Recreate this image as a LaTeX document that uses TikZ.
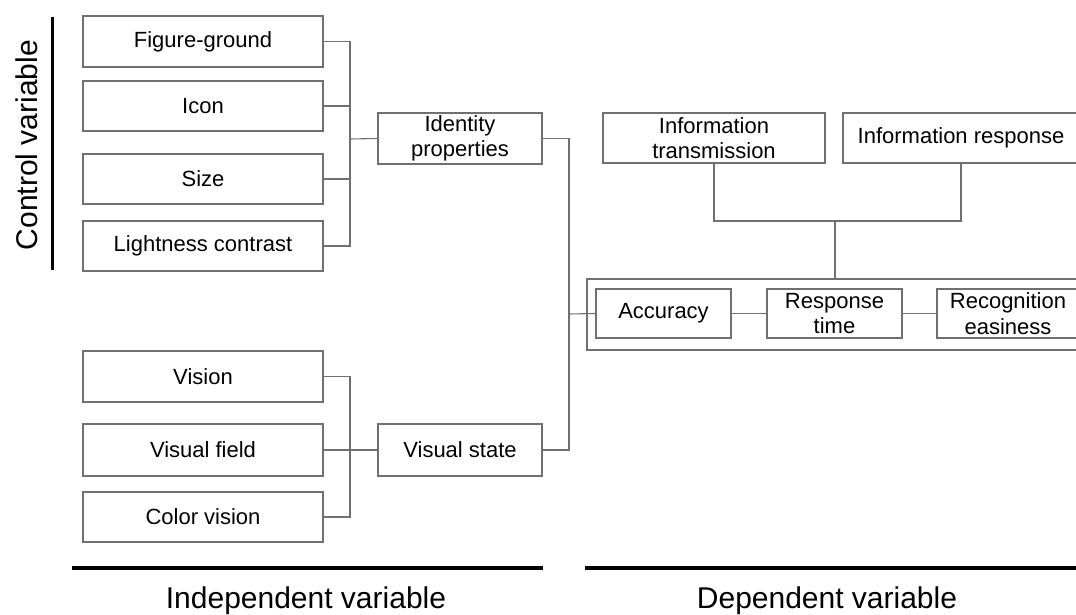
\documentclass[tikz,border=0pt]{standalone}
\usepackage{fontspec}
\setmainfont{Liberation Sans}
\definecolor{linegray}{RGB}{112,112,112}
\begin{document}
\begin{tikzpicture}[x=1pt,y=-1pt,
  box/.style={draw=linegray, line width=1.1pt, inner sep=0pt, align=center,
    font=\fontsize{22}{25.5}\selectfont, text=black},
  conn/.style={draw=linegray, line width=1.1pt},
  bar/.style={draw=black, line width=4pt},
  biglabel/.style={font=\fontsize{30}{34}\selectfont, text=black, inner sep=0pt}]
\clip (0,0) rectangle (1076,615);
\fill[white] (0,0) rectangle (1076,615);
% left column boxes
\node[box, minimum width=240, minimum height=51] (fg) at (203,41.5) {Figure-ground};
\node[box, minimum width=240, minimum height=50] (icon) at (203,106) {Icon};
\node[box, minimum width=240, minimum height=50] (size) at (203,179) {Size};
\node[box, minimum width=240, minimum height=50] (light) at (203,246) {Lightness contrast};
\node[box, minimum width=240, minimum height=51] (vision) at (203,376.5) {Vision};
\node[box, minimum width=240, minimum height=52] (vfield) at (203,450) {Visual field};
\node[box, minimum width=240, minimum height=50] (cvision) at (203,517) {Color vision};
% middle
\node[box, minimum width=164, minimum height=51] (idp) at (460,138.5) {Identity\\properties};
\node[box, minimum width=164, minimum height=52] (vstate) at (460,450) {Visual state};
% right top
\node[box, minimum width=222, minimum height=50] (itr) at (714,138) {Information\\transmission};
\node[box, minimum width=236, minimum height=50] (iresp) at (961,138) {Information response};
% container
\node[draw=linegray, line width=1.1pt, inner sep=0pt, minimum width=503, minimum height=71] (outer) at (838.5,314.5) {};
\node[box, minimum width=135, minimum height=49] (acc) at (663.5,313.5) {Accuracy};
\node[box, minimum width=135, minimum height=49] (resp) at (834.5,313.5) {Response\\time};
\node[box, minimum width=142, minimum height=49] (recog) at (1008,313.5) {Recognition\\easiness};
% junctions
\coordinate (j1) at (350,139);
\coordinate (j2) at (350,449);
\coordinate (j3) at (569,314);
\coordinate (j4) at (835,221);
% connectors
\draw[conn] (fg.east) -| (j1);
\draw[conn] (icon.east) -| (j1);
\draw[conn] (size.east) -| (j1);
\draw[conn] (light.east) -| (j1);
\draw[conn] (j1) -- (idp.west);
\draw[conn] (vision.east) -| (j2);
\draw[conn] (cvision.east) -| (j2);
\draw[conn] (vfield.east) -- (vstate.west);
\draw[conn] (idp.east) -| (j3);
\draw[conn] (vstate.east) -| (j3);
\draw[conn] (j3) -- (acc.west);
\draw[conn] (itr.south) |- (j4);
\draw[conn] (iresp.south) |- (j4);
\draw[conn] (j4) -- (j4 |- outer.north);
\draw[conn] (acc.east) -- (resp.west);
\draw[conn] (resp.east) -- (recog.west);
% bars and labels
\draw[draw=black, line width=3pt] (52,17) -- (52,270);
\draw[bar] (72,568) -- (543,568);
\draw[bar] (585,568) -- (1090,568);
\node[biglabel, rotate=90, anchor=base] (cv) at (37,145) {Control variable};
\node[biglabel, anchor=base] (iv) at (306,608) {Independent variable};
\node[biglabel, anchor=base] (dv) at (827,608) {Dependent variable};
\end{tikzpicture}
\end{document}
